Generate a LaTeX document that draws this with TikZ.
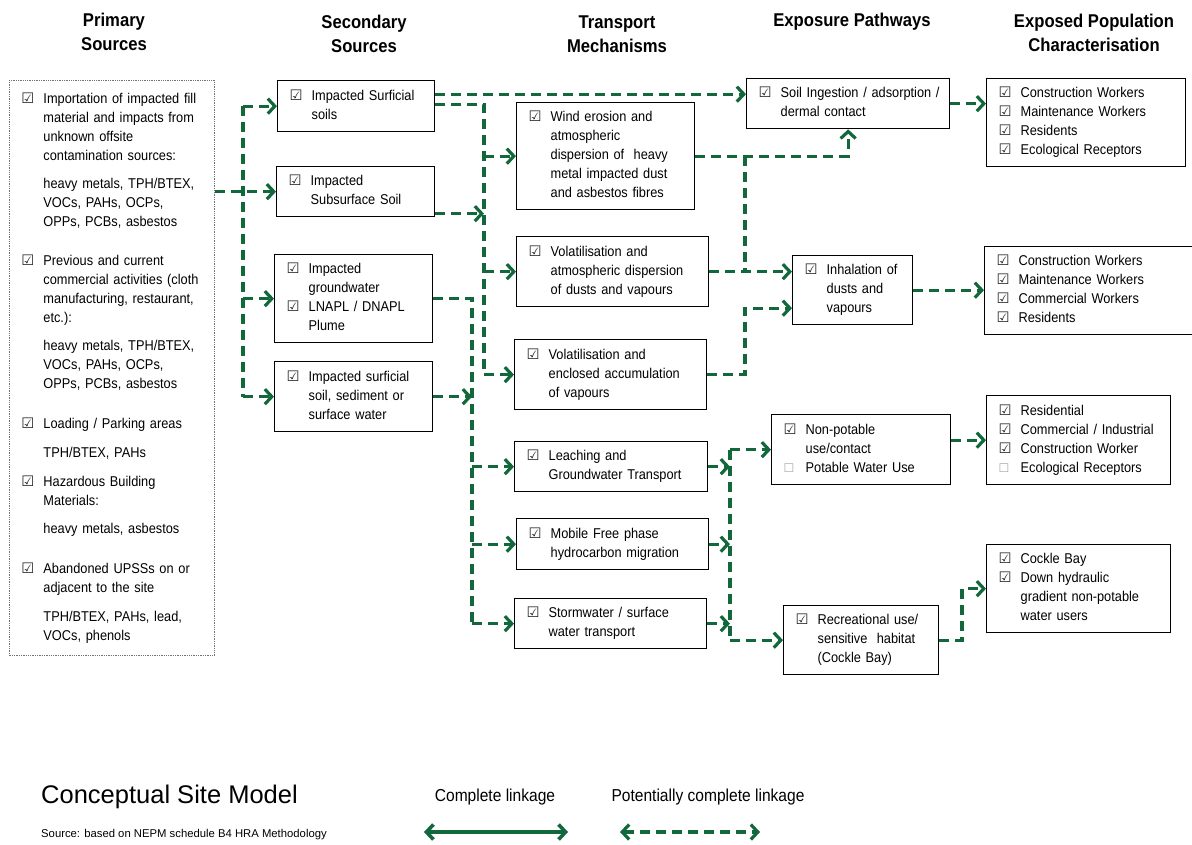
\documentclass[tikz,border=0pt]{standalone}
\usepackage{fontspec}
\setmainfont[FakeStretch=0.9]{Liberation Sans}
\newfontfamily\plainfont{Liberation Sans}
\newfontfamily\symfont{DejaVu Sans}
\usetikzlibrary{arrows.meta}

\definecolor{csmgreen}{RGB}{18,104,58}
\newcommand{\bodyfont}{\fontsize{14.2}{19}\selectfont}
\newcommand{\ck}{\leavevmode{\symfont\fontsize{14.5}{14}\selectfont\textcolor{black!85}{☑}}}
\newcommand{\nock}{\leavevmode{\symfont\fontsize{12}{12}\selectfont\textcolor{black!35}{☐}}}
\newcommand{\rows}[1]{\begin{tabular}{@{}p{22pt}@{}l@{}}#1\end{tabular}}

\tikzset{
  every node/.style={inner sep=0pt},
  box/.style={draw, line width=1.3pt, anchor=north west, inner xsep=12pt, inner ysep=0pt, align=left, font=\bodyfont},
  head/.style={align=center, font=\bfseries\fontsize{18.5}{24}\selectfont},
  link/.style={draw=csmgreen, line width=3.2pt, dash pattern=on 10pt off 6pt},
  full/.style={draw=csmgreen, line width=3.6pt},
  tip/.style={-{Straight Barb[length=7pt,width=15pt]}},
  tips/.style={{Straight Barb[length=7pt,width=15pt]}-{Straight Barb[length=7pt,width=15pt]}}
}

\begin{document}
\begin{tikzpicture}[x=1pt,y=-1pt]
\useasboundingbox (0,0) rectangle (1192,844);

% column headings
\node[head] (hprim) at (114,32) {Primary\\Sources};
\node[head] (hsec) at (364,34) {Secondary\\Sources};
\node[head] (htrans) at (617,34) {Transport\\Mechanisms};
\node[head] (hexp) at (852,22) {Exposure Pathways};
\node[head] (hpop) at (1094,33) {Exposed Population\\Characterisation};

% primary sources
\node[box, text width=181pt, minimum height=575pt, draw=black!55, densely dotted, line width=0.9pt] (prim) at (9,80) {\rows{%
\ck & Importation of impacted fill\\
 & material and impacts from\\
 & unknown offsite\\
 & contamination sources:\\[9pt]
 & heavy metals, TPH/BTEX,\\
 & VOCs, PAHs, OCPs,\\
 & OPPs, PCBs, asbestos\\[20pt]
\ck & Previous and current\\
 & commercial activities (cloth\\
 & manufacturing, restaurant,\\
 & etc.):\\[9pt]
 & heavy metals, TPH/BTEX,\\
 & VOCs, PAHs, OCPs,\\
 & OPPs, PCBs, asbestos\\[21pt]
\ck & Loading / Parking areas\\[10pt]
 & TPH/BTEX, PAHs\\[10pt]
\ck & Hazardous Building\\
 & Materials:\\[9pt]
 & heavy metals, asbestos\\[21pt]
\ck & Abandoned UPSSs on or\\
 & adjacent to the site\\[10pt]
 & TPH/BTEX, PAHs, lead,\\
 & VOCs, phenols}};

% secondary sources
\node[box, text width=133pt, minimum height=51pt] (ssurf) at (277,80) {\rows{\ck & Impacted Surficial\\ & soils}};
\node[box, text width=134pt, minimum height=50pt] (ssub) at (276,166) {\rows{\ck & Impacted\\ & Subsurface Soil}};
\node[box, text width=134pt, minimum height=88pt] (sgw) at (274,254) {\rows{\ck & Impacted\\ & groundwater\\ \ck & LNAPL / DNAPL\\ & Plume}};
\node[box, text width=134pt, minimum height=70pt] (ssed) at (274,361) {\rows{\ck & Impacted surficial\\ & soil, sediment or\\ & surface water}};

% transport mechanisms
\node[box, text width=154pt, minimum height=107pt] (twind) at (516,102) {\rows{\ck & Wind erosion and\\ & atmospheric\\ & dispersion of~ heavy\\ & metal impacted dust\\ & and asbestos fibres}};
\node[box, text width=168pt, minimum height=70pt] (tvol) at (516,236) {\rows{\ck & Volatilisation and\\ & atmospheric dispersion\\ & of dusts and vapours}};
\node[box, text width=168pt, minimum height=70pt] (tenc) at (514,339) {\rows{\ck & Volatilisation and\\ & enclosed accumulation\\ & of vapours}};
\node[box, text width=169pt, minimum height=50pt] (tleach) at (514,441) {\rows{\ck & Leaching and\\ & Groundwater Transport}};
\node[box, text width=168pt, minimum height=51pt] (tfree) at (516,518) {\rows{\ck & Mobile Free phase\\ & hydrocarbon migration}};
\node[box, text width=168pt, minimum height=50pt] (tstorm) at (514,598) {\rows{\ck & Stormwater / surface\\ & water transport}};

% exposure pathways
\node[box, text width=179pt, minimum height=50pt] (esoil) at (746,78) {\rows{\ck & Soil Ingestion / adsorption /\\ & dermal contact}};
\node[box, text width=96pt, minimum height=69pt] (einh) at (792,255) {\rows{\ck & Inhalation of\\ & dusts and\\ & vapours}};
\node[box, text width=155pt, minimum height=70pt] (ewater) at (771,414) {\rows{\ck & Non-potable\\ & use/contact\\ \nock & Potable Water Use}};
\node[box, text width=131pt, minimum height=69pt] (erec) at (783,605) {\rows{\ck & Recreational use/\\ & sensitive~ habitat\\ & (Cockle Bay)}};

% exposed population
\node[box, text width=175pt, minimum height=88pt] (pop1) at (986,78) {\rows{\ck & Construction Workers\\ \ck & Maintenance Workers\\ \ck & Residents\\ \ck & Ecological Receptors}};
\node[box, text width=184pt, minimum height=88pt] (pop2) at (984,246) {\rows{\ck & Construction Workers\\ \ck & Maintenance Workers\\ \ck & Commercial Workers\\ \ck & Residents}};
\node[box, text width=160pt, minimum height=89pt] (pop3) at (986,395) {\rows{\ck & Residential\\ \ck & Commercial / Industrial\\ \ck & Construction Worker\\ \nock & Ecological Receptors}};
\node[box, text width=160pt, minimum height=88pt] (pop4) at (986,544) {\rows{\ck & Cockle Bay\\ \ck & Down hydraulic\\ & gradient non-potable\\ & water users}};

\coordinate (spine1) at (243,0);
\coordinate (spine2) at (484,0);
\coordinate (spine3) at (472,0);
\coordinate (spine4) at (745,0);
\coordinate (spine6) at (730,0);
\coordinate (spine7) at (962,0);
\coordinate (inh2) at ([yshift=-18pt]einh.west);

% primary to secondary
\draw[link] (spine1 |- ssurf.west) -- (spine1 |- ssed.west);
\draw[link,tip] (prim.east |- ssub.west) -- (ssub.west);
\draw[link,tip] (spine1 |- ssurf.west) -- (ssurf.west);
\draw[link,tip] (spine1 |- sgw.west) -- (sgw.west);
\draw[link,tip] (spine1 |- ssed.west) -- (ssed.west);

% secondary to transport
\draw[link,tip] ([yshift=12pt]ssurf.east) -- ([yshift=12pt]ssurf.east -| esoil.west);
\draw[link] ([yshift=2pt]ssurf.east) -| (spine2 |- tenc.west);
\draw[link,tip] ([yshift=-22pt]ssub.east) -- ([yshift=-22pt]ssub.east -| spine2);
\draw[link,tip] (spine2 |- twind.west) -- (twind.west);
\draw[link,tip] (spine2 |- tvol.west) -- (tvol.west);
\draw[link,tip] (spine2 |- tenc.west) -- (tenc.west);
\draw[link] (sgw.east) -| (spine3 |- tstorm.west);
\draw[link,tip] (ssed.east) -- (ssed.east -| spine3);
\draw[link,tip] (spine3 |- tleach.west) -- (tleach.west);
\draw[link,tip] (spine3 |- tfree.west) -- (tfree.west);
\draw[link,tip] (spine3 |- tstorm.west) -- (tstorm.west);

% transport to exposure
\draw[link,tip] (twind.east) -| (esoil.south);
\draw[link] (twind.east -| spine4) -- (spine4 |- tvol.east);
\draw[link,tip] (tvol.east) -- (tvol.east -| einh.west);
\draw[link,tip] (tenc.east) -| (spine4 |- inh2) -- (inh2);
\draw[link,tip] (tleach.east) -- (tleach.east -| spine6);
\draw[link,tip] (tfree.east) -- (tfree.east -| spine6);
\draw[link,tip] (tstorm.east) -- (tstorm.east -| spine6);
\draw[link] (spine6 |- ewater.west) -- (spine6 |- erec.west);
\draw[link,tip] (spine6 |- ewater.west) -- (ewater.west);
\draw[link,tip] (spine6 |- erec.west) -- (erec.west);

% exposure to population
\draw[link,tip] (esoil.east) -- (esoil.east -| pop1.west);
\draw[link,tip] (einh.east) -- (einh.east -| pop2.west);
\draw[link,tip] (ewater.east |- pop3.west) -- (pop3.west);
\draw[link,tip] (erec.east) -| (spine7 |- pop4.west) -- (pop4.west);

% title and legend
\node[anchor=west, font=\plainfont\fontsize{25.5}{30}\selectfont] (title) at (41,797) {Conceptual Site Model};
\node[anchor=west, font=\plainfont\fontsize{11.3}{13}\selectfont] (source) at (41,835) {Source: based on NEPM schedule B4 HRA Methodology};
\node[font=\fontsize{17.3}{20}\selectfont] (lfull) at (495,797) {Complete linkage};
\node[font=\fontsize{17.3}{20}\selectfont] (lpot) at (708,797) {Potentially complete linkage};
\coordinate (lf1) at (424,832);
\coordinate (lf2) at (568,832);
\coordinate (lp1) at (620,832);
\coordinate (lp2) at (760,832);
\draw[full,tips] (lf1) -- (lf2);
\draw[link,tips] (lp1) -- (lp2);
\end{tikzpicture}
\end{document}
